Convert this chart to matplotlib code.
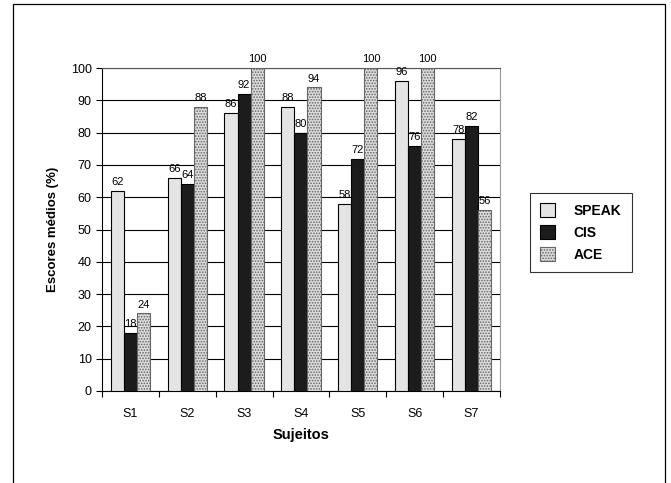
import matplotlib
matplotlib.use("Agg")
import matplotlib.pyplot as plt
import numpy as np
from matplotlib.patches import Rectangle

plt.rcParams["font.family"] = ["Liberation Sans", "DejaVu Sans"]
plt.rcParams["hatch.linewidth"] = 0.8

subjects = ["S1", "S2", "S3", "S4", "S5", "S6", "S7"]
speak = [62, 66, 86, 88, 58, 96, 78]
cis = [18, 64, 92, 80, 72, 76, 82]
ace = [24, 88, 100, 94, 100, 100, 56]

fig = plt.figure(figsize=(6.71, 4.83), dpi=100)
ax = fig.add_axes([0.152, 0.1905, 0.593, 0.6685])

x = np.arange(len(subjects))
w = 0.23
series = [
    ("SPEAK", speak, dict(facecolor="#e4e4e4", edgecolor="black")),
    ("CIS", cis, dict(facecolor="#1c1c1c", edgecolor="black")),
    ("ACE", ace, dict(facecolor="#dcdcdc", edgecolor="#666666", hatch="......")),
]
for i, (name, vals, style) in enumerate(series):
    pos = x + (i - 1) * w
    ax.bar(pos, vals, w, label=name, linewidth=0.8, zorder=3, **style)
    for p, v in zip(pos, vals):
        ax.text(p, v + 1.2, str(v), ha="center", va="bottom", fontsize=8, zorder=4)

ax.set_xlim(-0.5, len(subjects) - 0.5)
ax.set_ylim(0, 100)
ax.set_yticks(range(0, 101, 10))
ax.yaxis.grid(True, color="black", linewidth=0.8, zorder=0)
ax.set_xticks(np.arange(-0.5, len(subjects), 1.0))
ax.set_xticklabels([])
ax.set_xticks(x, minor=True)
ax.set_xticklabels(subjects, minor=True)
ax.tick_params(axis="x", which="minor", length=0, pad=12, labelsize=9)
ax.tick_params(axis="x", which="major", length=4, direction="out")
ax.tick_params(axis="y", length=4, direction="out", labelsize=9)

ax.spines["right"].set_color("#999999")
ax.spines["top"].set_color("#555555")
for s in ["left", "bottom"]:
    ax.spines[s].set_color("black")

ax.set_ylabel("Escores médios (%)", fontsize=9.5, fontweight="bold", labelpad=8)
ax.set_xlabel("Sujeitos", fontsize=10.5, fontweight="bold", labelpad=6)

leg = fig.legend(loc="upper left", bbox_to_anchor=(0.779, 0.615), fancybox=False,
                 edgecolor="black", frameon=True, prop={"weight": "bold", "size": 10},
                 handlelength=1.1, handleheight=1.1, borderpad=0.75, labelspacing=0.55,
                 handletextpad=1.3)
leg.get_frame().set_linewidth(0.8)

fig.patches.append(Rectangle((13 / 671, -0.02), 652 / 671, 1.0 - 4 / 483 + 0.02,
                             transform=fig.transFigure, fill=False,
                             edgecolor="black", linewidth=0.9))

fig.savefig("out.png", dpi=100)
